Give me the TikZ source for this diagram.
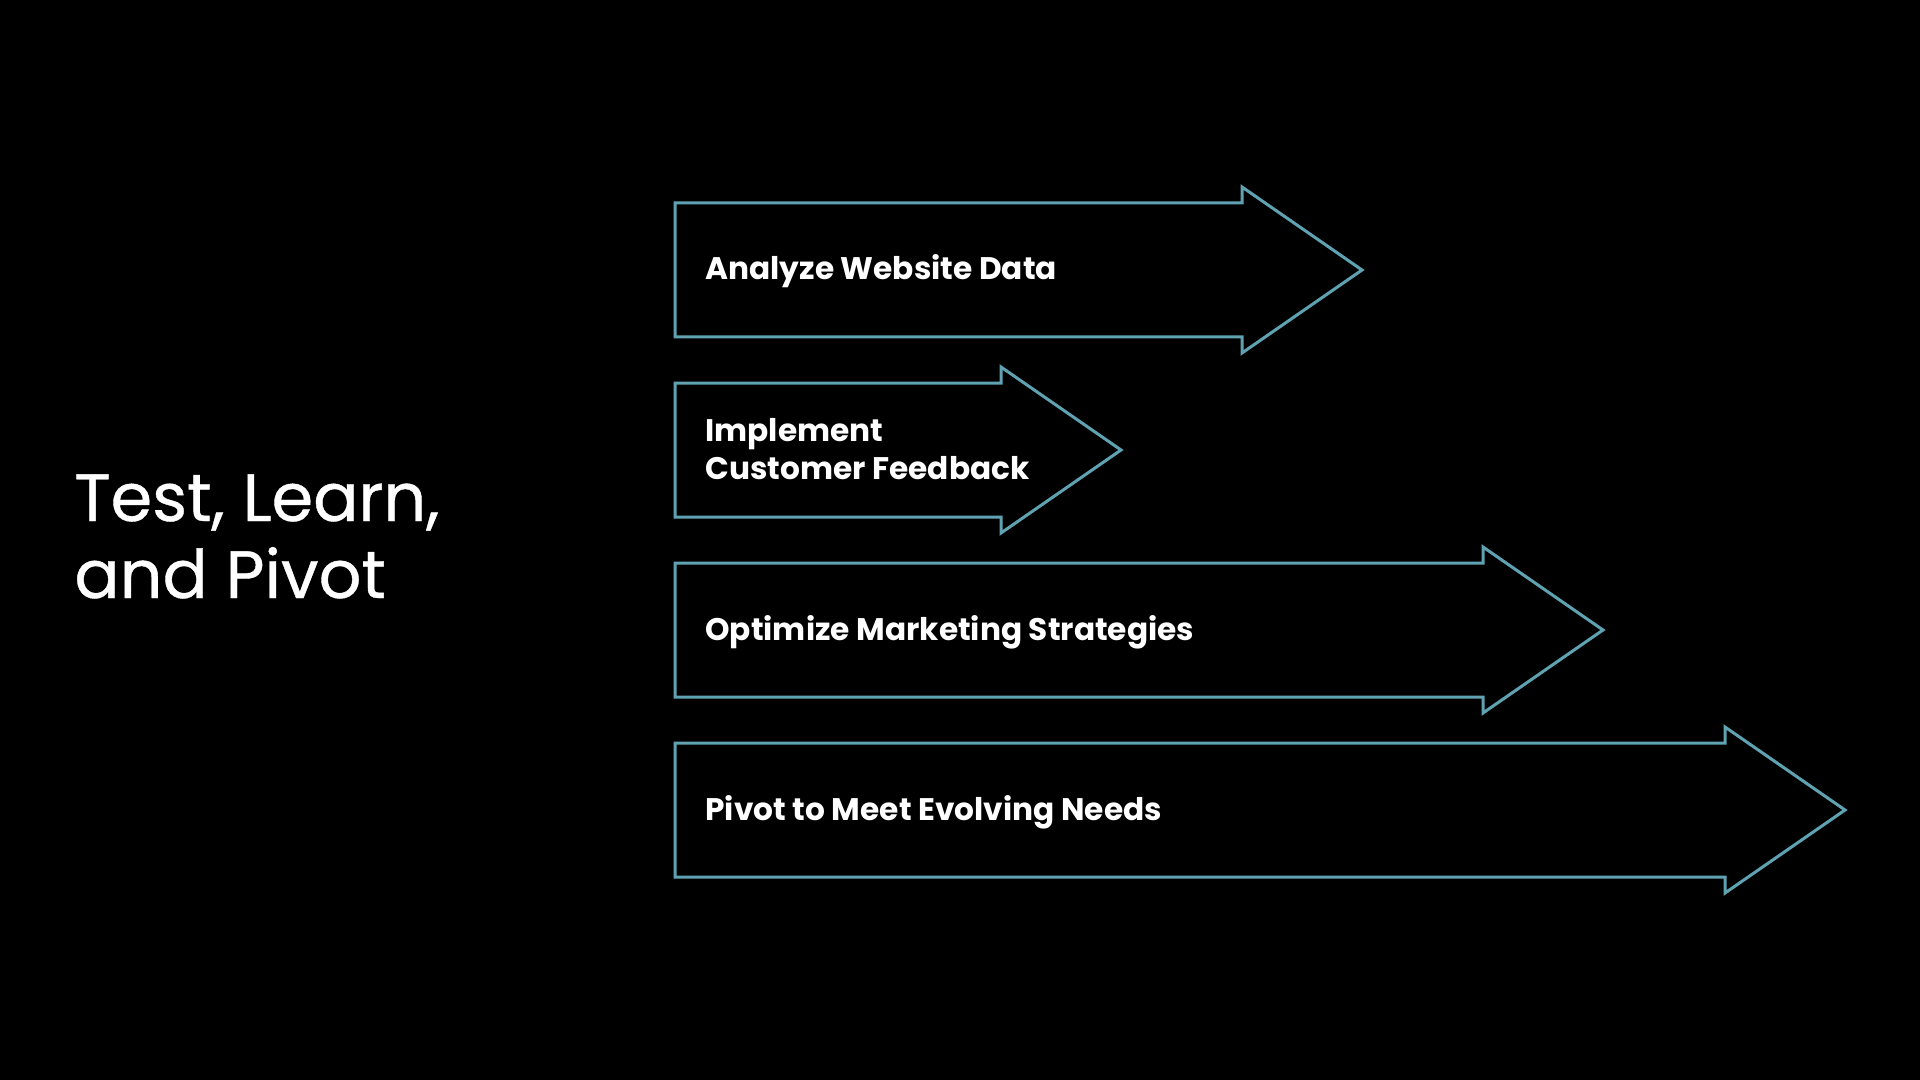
\documentclass[tikz,border=0pt]{standalone}
\usepackage{fontspec}
\setmainfont{Poppins}
\newfontfamily\ttlfont[FakeBold=0.6]{Poppins}
\begin{document}
\begin{tikzpicture}[x=0.5pt,y=-0.5pt,
  arrowline/.style={draw=arrowcol,line width=1.5pt,line join=miter},
  lbl/.style={anchor=base west,text=white,font=\bfseries\fontsize{15.6}{19.2}\selectfont,align=left,inner sep=0pt},
  ttl/.style={anchor=base west,text=white,font=\ttlfont\fontsize{33.5}{39}\selectfont,inner sep=0pt}]
\definecolor{arrowcol}{HTML}{5FA3B3}
\fill[black] (0,0) rectangle (1920,1080);
\useasboundingbox (0,0) rectangle (1920,1080);
% arrows: body left 675, half body 67, half head 83, head length 120
\draw[arrowline] (675,203) -- (1242,203) -- (1242,187) -- (1362,270) -- (1242,353) -- (1242,337) -- (675,337) -- cycle;
\draw[arrowline] (675,383) -- (1001,383) -- (1001,367) -- (1121,450) -- (1001,533) -- (1001,517) -- (675,517) -- cycle;
\draw[arrowline] (675,563) -- (1483,563) -- (1483,547) -- (1603,630) -- (1483,713) -- (1483,697) -- (675,697) -- cycle;
\draw[arrowline] (675,743) -- (1725,743) -- (1725,727) -- (1845,810) -- (1725,893) -- (1725,877) -- (675,877) -- cycle;
\node[lbl] (a1) at (705,280) {Analyze Website Data};
\node[lbl,anchor=west] (a2) at (705,449) {Implement\\Customer Feedback};
\node[lbl] (a3) at (705,640) {Optimize Marketing Strategies};
\node[lbl] (a4) at (705,820) {Pivot to Meet Evolving Needs};
\node[ttl] (t1) at (74,521) {Test, Learn,};
\node[ttl] (t2) at (74,598) {and Pivot};
\end{tikzpicture}
\end{document}
